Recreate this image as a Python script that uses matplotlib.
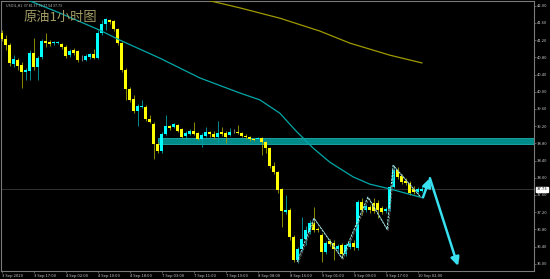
import matplotlib
matplotlib.use("Agg")
import matplotlib.pyplot as plt
import matplotlib.patheffects as pe
import numpy as np

# hourly USOil candles (open, high, low, close)
opens = [41.37, 41.23, 41.09, 40.65, 40.74, 40.62, 40.46, 40.48, 40.90, 40.58,
         40.81, 41.18, 41.16, 41.13, 41.13, 41.11, 41.04, 40.85, 40.97, 40.95,
         40.78, 40.74, 40.81, 40.88, 40.78, 41.37, 41.58, 41.67, 41.65, 41.46,
         41.13, 40.51, 40.06, 39.83, 39.55, 39.65, 39.65, 39.37, 39.25, 38.78,
         38.62, 39.02, 39.20, 39.18, 39.23, 39.13, 38.97, 39.02, 39.09, 39.04,
         38.90, 38.97, 39.06, 39.02, 38.95, 39.06, 39.04, 38.99, 39.06, 39.06,
         39.04, 38.97, 38.95, 38.90, 38.90, 38.92, 38.83, 38.69, 38.27, 38.13,
         37.74, 37.20, 37.25, 36.62, 36.09, 36.34, 36.58, 36.74, 36.95, 36.81,
         36.67, 36.27, 36.53, 36.48, 36.34, 36.43, 36.23, 36.39, 36.48, 36.37,
         37.44, 37.25, 37.32, 37.41, 37.41, 37.30, 37.23, 37.27, 37.78, 38.18,
         38.04, 37.92, 37.88, 37.74, 37.67, 37.70]
highs = [41.44, 41.32, 41.13, 40.85, 40.78, 40.69, 40.55, 40.97, 41.25, 40.83,
         41.23, 41.37, 41.20, 41.18, 41.18, 41.13, 41.09, 40.99, 41.02, 40.97,
         40.85, 40.88, 40.90, 40.99, 41.44, 41.67, 41.71, 41.69, 41.67, 41.48,
         41.16, 40.55, 40.11, 39.92, 39.71, 39.81, 39.69, 39.46, 39.30, 38.83,
         39.06, 39.46, 39.23, 39.27, 39.25, 39.16, 39.09, 39.13, 39.30, 39.06,
         39.04, 39.18, 39.09, 39.09, 39.32, 39.18, 39.09, 39.16, 39.13, 39.23,
         39.06, 39.02, 38.97, 38.92, 38.95, 38.95, 38.85, 38.71, 38.37, 38.16,
         37.76, 37.60, 37.30, 36.67, 36.39, 37.09, 36.88, 37.02, 37.32, 36.86,
         36.71, 36.53, 36.58, 36.55, 36.46, 36.48, 36.48, 36.55, 36.55, 37.48,
         37.53, 37.39, 37.37, 37.53, 37.48, 37.34, 37.32, 37.81, 38.30, 38.25,
         38.09, 37.99, 37.92, 37.81, 37.78, 37.81]
lows = [41.18, 40.97, 40.60, 40.58, 40.51, 40.09, 40.27, 40.27, 40.51, 40.27,
        40.76, 41.04, 41.06, 41.09, 41.11, 40.99, 40.78, 40.81, 40.85, 40.69,
        40.71, 40.71, 40.76, 40.76, 40.76, 41.32, 41.44, 41.58, 41.41, 41.09,
        40.46, 39.81, 39.76, 39.51, 39.20, 39.62, 39.32, 39.27, 38.44, 38.58,
        38.58, 38.99, 39.11, 39.16, 39.06, 38.92, 38.88, 38.99, 38.99, 38.88,
        38.71, 38.95, 38.95, 38.90, 38.81, 38.97, 38.81, 38.97, 39.04, 39.02,
        38.95, 38.90, 38.85, 38.85, 38.88, 38.53, 38.58, 38.23, 38.09, 37.65,
        36.85, 37.16, 36.55, 36.04, 36.02, 36.30, 36.44, 36.69, 36.74, 36.74,
        36.04, 36.23, 36.41, 36.09, 36.27, 36.13, 36.18, 36.34, 36.32, 36.32,
        37.13, 37.20, 37.18, 37.18, 37.06, 37.16, 37.18, 37.23, 37.76, 37.97,
        37.85, 37.83, 37.60, 37.62, 37.62, 37.66]
closes = [41.23, 41.09, 40.67, 40.76, 40.60, 40.46, 40.51, 40.90, 40.58, 40.78,
          41.18, 41.13, 41.11, 41.16, 41.15, 41.04, 40.83, 40.95, 40.90, 40.74,
          40.78, 40.83, 40.88, 40.78, 41.37, 41.58, 41.69, 41.62, 41.46, 41.13,
          40.51, 40.06, 39.81, 39.55, 39.67, 39.67, 39.37, 39.30, 38.78, 38.62,
          39.02, 39.20, 39.16, 39.25, 39.09, 38.95, 39.04, 39.09, 39.02, 38.90,
          38.99, 39.06, 39.02, 38.95, 39.04, 39.02, 38.95, 39.06, 39.06, 39.04,
          38.97, 38.95, 38.90, 38.88, 38.92, 38.83, 38.69, 38.27, 38.13, 37.71,
          37.23, 37.25, 36.62, 36.09, 36.34, 36.58, 36.78, 36.95, 36.78, 36.79,
          36.27, 36.48, 36.46, 36.34, 36.41, 36.23, 36.43, 36.48, 36.39, 37.44,
          37.25, 37.34, 37.25, 37.23, 37.25, 37.20, 37.27, 37.78, 38.18, 38.02,
          37.90, 37.88, 37.65, 37.67, 37.74, 37.73]

# moving averages sampled at bar positions
ma_fast_bar = [6.6, 14.6, 24.6, 29.6, 34.6, 39.6, 49.6, 59.6, 64.6, 69.6,
               73.4, 77.9, 82.1, 87.9, 92.1, 97.1, 105.4]
ma_fast_val = [42.13, 41.83, 41.43, 41.20, 40.99, 40.78, 40.32, 39.97, 39.81,
               39.50, 39.11, 38.69, 38.36, 38.02, 37.85, 37.74, 37.53]
ma_slow_bar = [51.4, 59.6, 69.6, 79.6, 87.1, 97.1, 105.1]
ma_slow_val = [42.13, 41.95, 41.71, 41.41, 41.13, 40.85, 40.67]

# zigzag and forecast arrow
zz_bar = [73.9, 78.1, 85.1, 91.6, 96.4, 97.9, 104.6]
zz_val = [36.04, 37.06, 36.13, 37.55, 36.80, 38.29, 37.57]
arrow_bar = [105.4, 107.1, 114.1]
arrow_val = [37.55, 37.99, 35.95]

zone_start = 39.0
zone_low, zone_high = 38.78, 38.92
last_price = 37.73

xtick_bars = [0, 8, 16, 24, 32, 40, 48, 56, 64, 72, 80, 88, 96, 104]
xtick_labels = ["3 Sep 2020", "3 Sep 17:00", "4 Sep 02:00", "4 Sep 10:00",
                "4 Sep 18:00", "7 Sep 03:00", "7 Sep 11:00", "7 Sep 19:00",
                "8 Sep 08:00", "8 Sep 16:00", "9 Sep 01:00", "9 Sep 09:00",
                "9 Sep 17:00", "10 Sep 02:00"]
ytick_vals = [36.0, 36.4, 36.8, 37.2, 37.6, 38.0, 38.4, 38.8, 39.2, 39.6,
              40.0, 40.4, 40.8, 41.2, 41.6, 42.0]

plt.rcParams['font.family'] = ['Noto Sans CJK SC', 'DejaVu Sans']

YLO, YHI = 35.831, 42.11

fig = plt.figure(figsize=(5.5, 2.79), dpi=100, facecolor='black')
ax = fig.add_axes([1/550, 8/279, 533/550, 270/279])
ax.set_facecolor('black')
ax.set_xlim(-0.125, 133.125)
ax.set_ylim(YLO, YHI)

# support zone and last price line
ax.add_patch(plt.Rectangle((zone_start, zone_low), 140, zone_high - zone_low,
                           facecolor='#008b8b', edgecolor='#20b0b0', lw=0.6, zorder=1))
ax.axhline(last_price, color='#3a3a3a', lw=0.6, zorder=0)

# candles
idx = np.arange(len(opens))
o = np.array(opens); c = np.array(closes)
up = c > o
dn = c < o
flat = c == o
for mask, col, wcol in [(up, '#00ffff', '#00a0a8'), (dn, '#ffff00', '#a0a000'),
                        (flat, '#c0c0c0', '#909090')]:
    ax.vlines(idx[mask], np.array(lows)[mask], np.array(highs)[mask],
              color=wcol, lw=0.6, zorder=2)
    body = np.maximum(np.abs(c - o)[mask], 0.015)
    ax.bar(idx[mask], body, bottom=np.minimum(o, c)[mask], width=0.75,
           color=col, lw=0, zorder=3)

ax.plot(ma_fast_bar, ma_fast_val, color='#00a8a8', lw=0.9, zorder=4)
ax.plot(ma_slow_bar, ma_slow_val, color='#a09a00', lw=0.9, zorder=4)

shadow = [pe.SimpleLineShadow(offset=(0.8, -0.8), shadow_color='#606060', alpha=1), pe.Normal()]
ax.plot(zz_bar, zz_val, color='#a8f4f4', lw=0.7, ls=(0, (2.5, 1)), zorder=5,
        path_effects=shadow)

for i in range(len(arrow_bar) - 1):
    ann = ax.annotate('', xy=(arrow_bar[i + 1], arrow_val[i + 1]),
                      xytext=(arrow_bar[i], arrow_val[i]),
                      arrowprops=dict(arrowstyle='-|>,head_length=0.5,head_width=0.25',
                                      color='#38e0f0', lw=1.8, shrinkA=0, shrinkB=0),
                      zorder=6)
    ann.arrow_patch.set_path_effects([pe.SimplePatchShadow(offset=(1, -1),
                                                           shadow_rgbFace='#606060', alpha=1),
                                      pe.Normal()])

for s in ax.spines.values():
    s.set_color('#7a7a7a')
    s.set_linewidth(0.8)

ax.yaxis.tick_right()
ax.set_yticks(ytick_vals)
ax.set_yticklabels([f"{v:.2f}" for v in ytick_vals])
ax.set_xticks(xtick_bars)
ax.set_xticklabels(xtick_labels)
for lab in ax.get_xticklabels():
    lab.set_ha('left')
ax.tick_params(axis='both', colors='#7a7a7a', labelcolor='#c8c8c8',
               labelsize=3.0, length=1.5, width=0.5, pad=0.6)

ax.text(1.005, (last_price - YLO) / (YHI - YLO), f"{last_price:.2f}",
        transform=ax.transAxes, fontsize=3.0, color='black', va='center', ha='left',
        bbox=dict(boxstyle='square,pad=0.15', fc='white', ec='white'), zorder=7,
        clip_on=False)

fig.text(24/550, 1 - 11/279, "原油1小时图", fontsize=9.5, color='#a29c64',
         va='top', ha='left')
fig.text(6/550, 1 - 3/279, "USOIL,H1  37.81 37.79 37.54 37.73", fontsize=2.6,
         color='#c0c0c0', va='top', ha='left')

fig.savefig('out.png', dpi=100, facecolor='black')
